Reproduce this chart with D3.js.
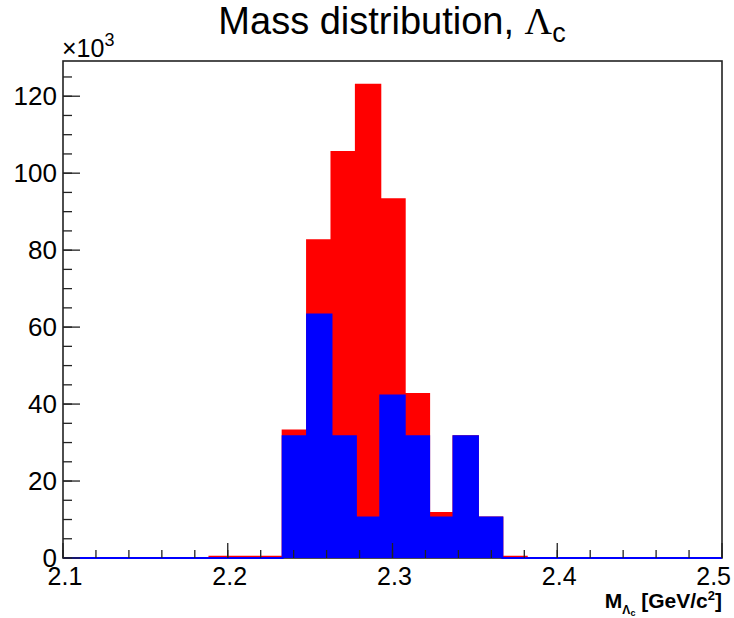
<!DOCTYPE html>
<html>
<head>
<meta charset="utf-8">
<script src="https://cdn.jsdelivr.net/npm/d3@7"></script>
<style>
  html, body { margin: 0; padding: 0; background: #fff; }
  svg { display: block; }
  text { font-family: "Liberation Sans", Arial, Helvetica, sans-serif; fill: #000; }
</style>
</head>
<body>
<svg id="chart" width="734" height="618"></svg>
<script>
// Histogram binning: 27 equal bins over the mass window (GeV/c^2)
const massMin = 2.1;
const massMax = 2.5;
const nBins = 27;

// Bin contents, in units of 10^3 entries
const allCandidates = [
  0, 0, 0, 0, 0, 0, 0.3, 0.3, 0.3,
  33.1, 82.6, 105.5, 123.0, 93.2, 42.6, 11.7, 31.65, 10.55,
  0.3, 0, 0, 0, 0, 0, 0, 0, 0
];
const selectedCandidates = [
  0, 0, 0, 0, 0, 0, 0, 0, 0,
  31.65, 63.3, 31.65, 10.55, 42.2, 31.65, 10.55, 31.65, 10.55,
  0, 0, 0, 0, 0, 0, 0, 0, 0
];

// Axis ticks
const xMajorTicks = [2.1, 2.2, 2.3, 2.4, 2.5];
const xTickLabels = ["2.1", "2.2", "2.3", "2.4", "2.5"];
const yMajorTicks = [0, 20, 40, 60, 80, 100, 120];
const yTickLabels = ["0", "20", "40", "60", "80", "100", "120"];

const svg = d3.select("#chart");
const frame = { left: 63, right: 722, top: 61, bottom: 558 };

const yMax = 1.05 * d3.max(allCandidates);
const x = d3.scaleLinear().domain([massMin, massMax]).range([frame.left, frame.right]);
const y = d3.scaleLinear().domain([0, yMax]).range([frame.bottom, frame.top]);

const binWidth = (massMax - massMin) / nBins;
const edges = d3.range(nBins + 1).map(i => massMin + i * binWidth);

// Frame
svg.append("rect")
  .attr("x", frame.left).attr("y", frame.top)
  .attr("width", frame.right - frame.left)
  .attr("height", frame.bottom - frame.top)
  .attr("fill", "none").attr("stroke", "#222").attr("stroke-width", 1.6);

// Step outline of a histogram, closed on the baseline
function stepPath(values) {
  const p = d3.path();
  p.moveTo(x(edges[0]), y(0));
  values.forEach((v, i) => {
    p.lineTo(x(edges[i]), y(v));
    p.lineTo(x(edges[i + 1]), y(v));
  });
  p.lineTo(x(edges[nBins]), y(0));
  return p.toString();
}

function drawHist(values, color) {
  svg.append("path")
    .attr("d", stepPath(values) + "Z")
    .attr("fill", color)
    .attr("stroke", "none");
  svg.append("path")
    .attr("d", stepPath(values))
    .attr("fill", "none")
    .attr("stroke", color)
    .attr("stroke-width", 2);
}

drawHist(allCandidates, "#ff0000");
drawHist(selectedCandidates, "#0000ff");

// Bottom axis: ticks pointing inward
const xMinor = d3.range(0, 21).map(i => massMin + i * 0.02);
svg.append("g").selectAll("line").data(xMinor).join("line")
  .attr("x1", d => x(d)).attr("x2", d => x(d))
  .attr("y1", frame.bottom).attr("y2", frame.bottom - 8)
  .attr("stroke", "#222").attr("stroke-width", 1.3);
svg.append("g").selectAll("line").data(xMajorTicks).join("line")
  .attr("x1", d => x(d)).attr("x2", d => x(d))
  .attr("y1", frame.bottom).attr("y2", frame.bottom - 15)
  .attr("stroke", "#222").attr("stroke-width", 1.3);
svg.append("g").selectAll("text").data(xMajorTicks).join("text")
  .attr("x", (d, i) => i === xMajorTicks.length - 1 ? 731 : x(d) + 2)
  .attr("y", 585)
  .attr("text-anchor", (d, i) => i === xMajorTicks.length - 1 ? "end" : "middle")
  .attr("font-size", 25)
  .text((d, i) => xTickLabels[i]);

// Left axis: ticks pointing inward
const yMinor = d3.range(0, 26).map(i => i * 5).filter(v => v <= yMax);
svg.append("g").selectAll("line").data(yMinor).join("line")
  .attr("x1", frame.left).attr("x2", frame.left + 9)
  .attr("y1", d => y(d)).attr("y2", d => y(d))
  .attr("stroke", "#222").attr("stroke-width", 1.3);
svg.append("g").selectAll("line").data(yMajorTicks).join("line")
  .attr("x1", frame.left).attr("x2", frame.left + 17)
  .attr("y1", d => y(d)).attr("y2", d => y(d))
  .attr("stroke", "#222").attr("stroke-width", 1.3);
svg.append("g").selectAll("text").data(yMajorTicks).join("text")
  .attr("x", 57).attr("y", d => y(d) + 9)
  .attr("text-anchor", "end")
  .attr("font-size", 26)
  .text((d, i) => yTickLabels[i]);

// Exponent marker of the y axis
const expo = svg.append("text").attr("x", 62).attr("y", 57).attr("font-size", 25);
expo.append("tspan").text("\u00d710");
expo.append("tspan").attr("dy", -11).attr("font-size", 18).text("3");

// Title
const title = svg.append("text")
  .attr("x", 392).attr("y", 34)
  .attr("text-anchor", "middle")
  .attr("font-size", 38);
title.append("tspan").text("Mass distribution, ");
title.append("tspan").attr("font-family", "'Liberation Serif', 'DejaVu Serif', serif").text("\u039b");
title.append("tspan").attr("dy", 8).attr("font-size", 27).text("c");

// X axis title
const xt = svg.append("text")
  .attr("x", 722).attr("y", 608)
  .attr("text-anchor", "end")
  .attr("font-size", 21)
  .attr("font-weight", "bold");
xt.append("tspan").text("M");
xt.append("tspan").attr("dy", 6).attr("font-size", 12).text("\u039b");
xt.append("tspan").attr("dy", 2).attr("font-size", 9).text("c");
xt.append("tspan").attr("dy", -8).text(" [GeV/c");
xt.append("tspan").attr("dy", -8).attr("font-size", 13).text("2");
xt.append("tspan").attr("dy", 8).text("]");
</script>
</body>
</html>
